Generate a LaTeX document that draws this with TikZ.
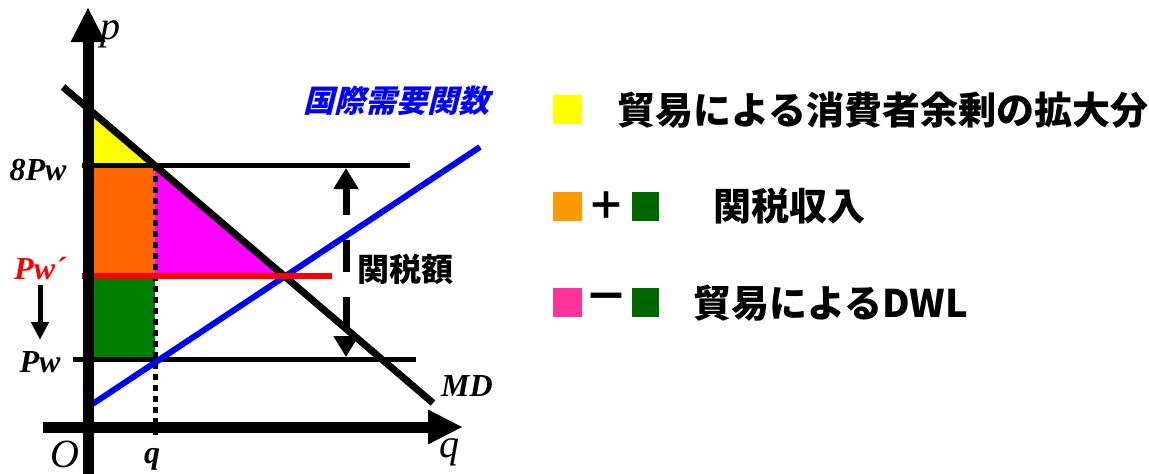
\documentclass[tikz,border=0pt]{standalone}
\usepackage{fontspec}
\setmainfont{Liberation Serif}
\newfontfamily\jp{Noto Sans CJK JP}
\newfontfamily\jpsl[FakeSlant=0.25]{Noto Sans CJK JP}
\usetikzlibrary{arrows.meta}
\definecolor{cyel}{HTML}{FFFF00}
\definecolor{corg}{HTML}{FF6600}
\definecolor{cmag}{HTML}{FF00FF}
\definecolor{cgrn}{HTML}{008000}
\definecolor{cblu}{HTML}{0000FF}
\definecolor{cred}{HTML}{FF0000}
\definecolor{lorg}{HTML}{FF9900}
\definecolor{lgrn}{HTML}{006600}
\definecolor{lpnk}{HTML}{FF3399}
\tikzset{
  axis/.style={line width=11pt,-{Triangle[length=35pt,width=32pt]}},
  priceline/.style={line width=5pt},
  curve/.style={line width=7pt},
  lbl/.style={inner sep=0pt,font=\fontsize{32}{32}\selectfont\bfseries\itshape},
  axlbl/.style={inner sep=0pt,font=\fontsize{40}{40}\selectfont\itshape},
  legsq/.style={minimum width=29pt,minimum height=29pt,inner sep=0pt},
  legtxt/.style={inner sep=0pt,anchor=west,font=\fontsize{38}{38}\selectfont\jp\bfseries},
}
\begin{document}
\begin{tikzpicture}[x=1pt,y=-1pt]
\useasboundingbox (0,0) rectangle (1149,474);
% key points
\coordinate (A) at (93,115.6);   % MD on p axis
\coordinate (B) at (155,165);    % MD at 8Pw
\coordinate (C) at (285,276.3);  % MD at Pw'
\coordinate (Btop) at (93,165);
\coordinate (Bmid) at (93,276.3);
\coordinate (Bbot) at (93,359);
\coordinate (Cq) at (155,276.3);
\coordinate (Dq) at (155,359);
% fills
\fill[cyel] (A) -- (B) -- (Btop) -- cycle;
\fill[corg] (Btop) rectangle (Cq);
\fill[cmag] (B) -- (C) -- (Cq) -- cycle;
\fill[cgrn] (Bmid) rectangle (Dq);
% horizontal price lines
\coordinate (h1a) at (82,165); \coordinate (h1b) at (410,165);
\coordinate (h2a) at (73,359); \coordinate (h2b) at (416,359);
\coordinate (h3a) at (82,276.3); \coordinate (h3b) at (332,276.3);
\draw[priceline] (h1a) -- (h1b);
\draw[priceline] (h2a) -- (h2b);
% dotted q line
\coordinate (qt) at (155.5,165); \coordinate (qb) at (155.5,437);
\draw[line width=5pt,dash pattern=on 6pt off 5pt] (qt) -- (qb);
% curves
\coordinate (md1) at (63,87); \coordinate (md2) at (433,403);
\draw[curve] (md1) -- (md2);
\coordinate (bl1) at (91,405); \coordinate (bl2) at (480,147);
\draw[line width=6pt,cblu] (bl1) -- (bl2);
\draw[line width=6pt,cred] (h3a) -- (h3b);
% axes
\coordinate (O1) at (88,480); \coordinate (ptip) at (88,7);
\coordinate (O2) at (43,427); \coordinate (qtip) at (463,427);
\draw[axis] (O1) -- (ptip);
\draw[axis] (O2) -- (qtip);
% tariff double arrow
\coordinate (ta) at (346,168); \coordinate (tb) at (346,357);
\draw[line width=7pt,dash pattern=on 27pt off 25pt on 32pt off 25pt on 30pt off 12pt,
  {Triangle[length=21pt,width=24pt]}-{Triangle[length=21pt,width=24pt]}] (ta) -- (tb);
% down arrow
\coordinate (da) at (40,285); \coordinate (db) at (40,340);
\draw[line width=5pt,-{Triangle[length=18pt,width=17pt]}] (da) -- (db);
% labels
\node[axlbl] (lp) at (110,34) {p};
\node[axlbl] (lq) at (449,452) {q};
\node[inner sep=0pt,font=\fontsize{40}{40}\selectfont\itshape] (lO) at (65,454) {O};
\node[lbl] (lqq) at (152,459) {q};
\node[lbl,anchor=base] (l8) at (38,180) {8Pw};
\node[lbl,anchor=base,text=cred] (lpw2) at (40,279) {Pw´};
\node[lbl,anchor=base] (lpw) at (40,372) {Pw};
\node[lbl,anchor=base] (lmd) at (467,396) {MD};
\node[inner sep=0pt,font=\fontsize{32}{32}\selectfont\jp\bfseries] (ltar) at (405,269) {関税額};
\node[inner sep=0pt,text=cblu,font=\fontsize{31}{31}\selectfont\jpsl\bfseries] (lmdf) at (396,101) {国際需要関数};
% legend
\node[legsq,fill=cyel] (s1) at (567.5,109.5) {};
\node[legtxt] (t1) at (617,110) {貿易による消費者余剰の拡大分};
\node[legsq,fill=lorg] (s2) at (567.5,206) {};
\node[inner sep=0pt,font=\fontsize{38}{38}\selectfont\jp\bfseries] (pl) at (606,206) {＋};
\node[legsq,fill=lgrn,minimum width=27pt] (s3) at (645.5,206) {};
\node[legtxt] (t2) at (713,206) {関税収入};
\node[legsq,fill=lpnk] (s4) at (567.5,302.5) {};
\node[inner sep=0pt,font=\fontsize{44}{44}\selectfont\jp\bfseries] (mi) at (606,303) {－};
\node[legsq,fill=lgrn,minimum width=27pt] (s5) at (645.5,302.5) {};
\node[legtxt] (t3) at (693,303) {貿易によるDWL};
\end{tikzpicture}
\end{document}
